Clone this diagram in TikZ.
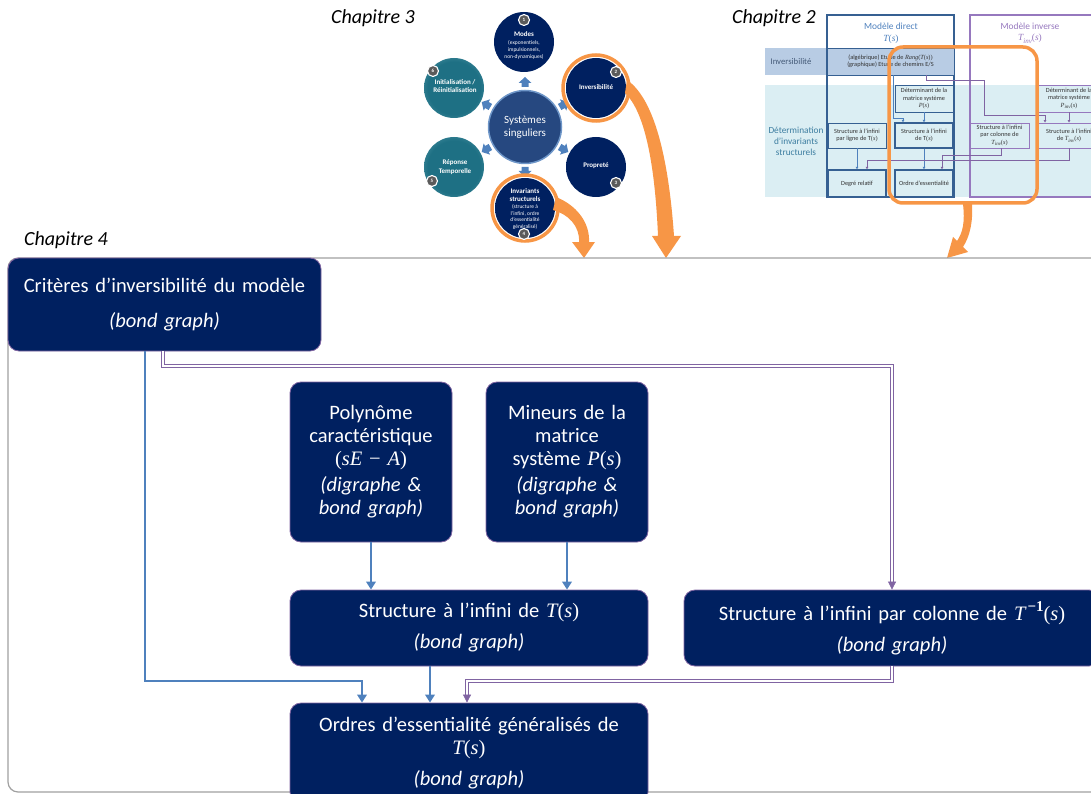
\documentclass[tikz,border=0pt]{standalone}
\usepackage{fontspec}
\setmainfont{Carlito}
\newfontfamily\cambria{Liberation Serif}
\usetikzlibrary{arrows.meta}
\definecolor{navy}{RGB}{0,32,96}
\definecolor{boxedge}{RGB}{128,100,162}
\definecolor{cblue}{RGB}{79,129,189}
\definecolor{cpurp}{RGB}{128,100,162}
\definecolor{framec}{RGB}{160,160,160}
\definecolor{orng}{RGB}{247,150,70}
\definecolor{navyrim}{RGB}{125,145,185}
\definecolor{tealc}{RGB}{30,112,132}
\definecolor{tealrim}{RGB}{155,205,215}
\definecolor{midblue}{RGB}{38,72,128}
\definecolor{ringblue}{RGB}{110,150,200}
\definecolor{badgec}{RGB}{90,90,90}
\definecolor{invband}{RGB}{184,204,228}
\definecolor{detband}{RGB}{219,238,243}
\definecolor{dircol}{RGB}{54,96,146}
\definecolor{invcol}{RGB}{150,120,190}
\definecolor{labinv}{RGB}{68,90,120}
\definecolor{labdet}{RGB}{60,125,160}
\definecolor{hdrblue}{RGB}{79,129,189}
\definecolor{celltext}{RGB}{50,50,50}
\pgfdeclareradialshading{navyglow}{\pgfpointorigin}{color(0bp)=(navy); color(28bp)=(navy); color(50bp)=(navyrim)}
\pgfdeclareradialshading{tealglow}{\pgfpointorigin}{color(0bp)=(tealc); color(22bp)=(tealc); color(50bp)=(tealrim)}
\newcommand\ctit{\fontsize{7}{8.3}\selectfont\bfseries}
\newcommand\csub{\fontsize{5.5}{6.8}\selectfont}
\newcommand\mv[1]{{\cambria\itshape #1}}
\newcommand\mup[1]{{\cambria #1}}
\newcommand\fn[2]{\mv{#1}\mup{(}\mv{#2}\mup{)}}
\newcommand\Tinvs[1]{\mv{T}\raisebox{-0.25em}{\fontsize{#1}{#1}\selectfont\mv{inv}}\mup{(}\mv{s}\mup{)}}
\newcommand\Pinvs[1]{\mv{P}\raisebox{-0.25em}{\fontsize{#1}{#1}\selectfont\mv{inv}}\mup{(}\mv{s}\mup{)}}
\begin{document}
\begin{tikzpicture}[x=1pt,y=-1pt,
  mainbox/.style={draw=boxedge, line width=0.8pt, fill=navy, rounded corners=11pt, text=white, align=center, inner sep=2pt, font=\fontsize{20.5}{23}\selectfont},
  blueflow/.style={draw=cblue, line width=2.6pt, -{Triangle[length=8pt,width=9.5pt]}},
  purpflow/.style={draw=cpurp, double=white, double distance=1.8pt, line width=0.7pt, -{Triangle[length=8pt,width=8pt]}},
  chapter/.style={font=\fontsize{20}{22}\selectfont\itshape},
  navycirc/.style={circle, minimum size=60pt, inner sep=0pt, shade, shading=navyglow},
  tealcirc/.style={circle, minimum size=60pt, inner sep=0pt, shade, shading=tealglow},
  ctitle/.style={text=white, align=center, inner sep=0pt, font=\ctit},
  csubt/.style={text=white, align=center, inner sep=0pt, font=\csub},
  badge/.style={circle, fill=badgec, draw=white, line width=1.1pt, minimum size=11pt, inner sep=0pt, text=white, font=\fontsize{5}{5}\selectfont\bfseries},
  cell/.style={draw=dircol, line width=0.9pt, fill=detband, inner sep=1pt, align=center, text=celltext, font=\fontsize{6.3}{7.3}\selectfont},
  icell/.style={cell, draw=invcol},
  tline/.style={line width=0.6pt, -{Triangle[length=2.5pt,width=2.6pt]}},
  orarrow/.style={fill=orng}
]
\useasboundingbox (0,0) rectangle (1091,794);

% ---------- chapter labels
\node[chapter] (ch3) at (373,18) {Chapitre 3};
\node[chapter] (ch2) at (774,18) {Chapitre 2};
\node[chapter] (ch4) at (66,240) {Chapitre 4};

% ---------- Chapitre 2 table
\fill[invband] (765,48) rectangle (955,75);
\fill[detband] (765,85) rectangle (1100,197);
\node[font=\fontsize{8.7}{10}\selectfont, text=labinv] (linv) at (791,62) {Inversibilité};
\node[font=\fontsize{9.3}{11}\selectfont, text=labdet, align=center] (ldet) at (796,141) {Détermination\\d’invariants\\structurels};
\draw[dircol, line width=1.2pt] (827,15) rectangle (954,197);
\draw[invcol, line width=1.2pt] (970,15) rectangle (1110,197);
\node[font=\fontsize{9.4}{11.5}\selectfont, text=hdrblue, align=center] (hdir) at (891,33) {Modèle direct\\\fn{T}{s}};
\node[font=\fontsize{9.4}{11.5}\selectfont, text=invcol, align=center] (hinv) at (1030,33) {Modèle inverse\\\Tinvs{7}};
\node[cell, fill=invband, minimum width=127pt, minimum height=27pt] (invc) at (890.5,61.5) {(algébrique) Etude de \mv{Rang}\mup{(}\fn{T}{s}\mup{)}\\(graphique) Etude de chemins E/S};
\node[cell, minimum width=58pt, minimum height=27pt] (detP) at (924,98.5) {Déterminant de la\\matrice système\\\fn{P}{s}};
\node[cell, minimum width=58pt, minimum height=25pt] (sline) at (857,135.5) {Structure à l’infini\\par ligne de T\mup{(}\mv{s}\mup{)}};
\node[cell, line width=1.4pt, minimum width=58pt, minimum height=25pt] (sT) at (924,135.5) {Structure à l’infini\\de T\mup{(}\mv{s}\mup{)}};
\node[cell, line width=1.4pt, minimum width=58pt, minimum height=27pt] (degre) at (857,183.5) {Degré relatif};
\node[cell, line width=1.4pt, minimum width=58pt, minimum height=27pt] (ordre) at (924,183.5) {Ordre d’essentialité};
\node[icell, minimum width=59pt, minimum height=25pt] (scol) at (999.5,135.5) {Structure à l’infini\\par colonne de\\\Tinvs{5}};
\node[icell, minimum width=62pt, minimum height=27pt] (detPinv) at (1069,98.5) {Déterminant de la\\matrice système\\\Pinvs{5}};
\node[icell, minimum width=62pt, minimum height=25pt] (sTinv) at (1069,135.5) {Structure à l’infini\\de \Tinvs{5}};
\coordinate (tb1) at (893,118);
\coordinate (tb2) at (903,118);
\draw[tline, draw=cblue, fill=cblue] (detP.south) -- (sT.north);
\draw[tline, draw=cblue, fill=cblue] (sline.south) -- (degre.north);
\draw[tline, draw=cblue, fill=cblue] (sT.south) -- (ordre.north);
\draw[tline, draw=cblue] (invc.south -| tb1) |- (tb2) -- (sT.north -| tb2);
\coordinate (tp1) at (926,80);
\coordinate (tp2) at (984,115);
\coordinate (tp3) at (1045,115);
\draw[tline, draw=cpurp] (invc.south -| tp1) -- (tp1) -| (tp2) -- (tp3) -- (sTinv.north -| tp3);
\draw[tline, draw=cpurp] (detPinv.south) -- (sTinv.north);
\coordinate (tp4) at (1001,155);
\coordinate (tp5) at (942,155);
\draw[tline, draw=cpurp] (scol.south -| tp4) -- (tp4) -- (tp5) -- (ordre.north -| tp5);
\coordinate (tp6) at (1069,160);
\coordinate (tp7) at (867,160);
\draw[tline, draw=cpurp] (sTinv.south -| tp6) -- (tp6) -- (tp7) -- (degre.north -| tp7);
\draw[orng, line width=3.5pt, rounded corners=14pt] (889,47) rectangle (1037,203);

% ---------- Chapitre 3 circles
\node[navycirc] (c1) at (524,42) {};
\node[navycirc] (c2) at (596,88) {};
\node[navycirc] (c3) at (596,167) {};
\node[navycirc] (c4) at (525,208) {};
\node[tealcirc] (c5) at (454,167) {};
\node[tealcirc] (c6) at (454,88) {};
\node[circle, minimum size=73pt, fill=midblue, draw=ringblue, line width=1.5pt, text=white, align=center, font=\fontsize{11}{13}\selectfont] (sys) at (525,127) {Systèmes\\singuliers};
\foreach \a in {90,30,-30,-90,-150,150}{
  \begin{scope}[shift={(525,127)}, rotate=\a]
    \fill[cblue] (40,-3.5) -- (44,-3.5) -- (44,-6.5) -- (50,0) -- (44,6.5) -- (44,3.5) -- (40,3.5) -- cycle;
  \end{scope}
}
\node[ctitle] (t1) at (524,34) {Modes};
\node[csubt] (t1s) at (524,50) {(exponentiels,\\impulsionnels,\\non-dynamiques)};
\node[ctitle] (t2) at (596,87) {Inversibilité};
\node[ctitle] (t3) at (596,166) {Propreté};
\node[ctitle] (t4) at (525,195) {Invariants\\structurels};
\node[csubt] (t4s) at (525,217) {(structure à\\l’infini, ordre\\d’essentialité\\généralisé)};
\node[ctitle] (t5) at (455,167) {Réponse\\Temporelle};
\node[ctitle] (t6) at (455,86) {Initialisation /\\Réinitialisation};
\draw[orng, line width=3.5pt] (c2.center) circle (33);
\draw[orng, line width=3.5pt] (c4.center) circle (33);
\node[badge] (n1) at (524,20) {1};
\node[badge] (n2) at (616,72) {2};
\node[badge] (n3) at (616,183) {3};
\node[badge] (n4) at (524,234) {4};
\node[badge] (n5) at (432,181) {5};
\node[badge] (n6) at (433,71) {6};

% ---------- orange arrows
\fill[orarrow] (627,80) .. controls (652,97) and (668,150) .. (674,236) -- (681,236) -- (666,258) -- (652,236) -- (658,236) .. controls (655,165) and (645,112) .. (625,93) -- cycle;
\fill[orarrow] (556,197) .. controls (576,205) and (590,222) .. (589,242) -- (595,242) -- (584,258) -- (572,242) -- (579,242) .. controls (580,226) and (568,214) .. (553,210) -- cycle;
\fill[orarrow] (963,204) .. controls (965,222) and (963,232) .. (957,241) -- (953,237) -- (947,258) -- (968,252) -- (963,247) .. controls (970,236) and (973,222) .. (972,204) -- cycle;

% ---------- Chapitre 4 frame and boxes
\draw[framec, line width=1.2pt, rounded corners=10pt] (8,258) rectangle (1110,792);
\node[mainbox, minimum width=313pt, minimum height=93pt, text width=305pt] (crit) at (164.5,304.5) {Critères d’inversibilité du modèle\\[12pt]{\itshape (bond graph)}};
\node[mainbox, minimum width=162pt, minimum height=160pt, text width=155pt] (poly) at (371,462) {Polynôme\\caractéristique\\\mup{(}\mv{sE}\mup{ − }\mv{A}\mup{)}\\[3pt]{\itshape (digraphe \&\\bond graph)}};
\node[mainbox, minimum width=162pt, minimum height=160pt, text width=155pt] (mineurs) at (567,462) {Mineurs de la\\matrice\\système \fn{P}{s}\\[3pt]{\itshape (digraphe \&\\bond graph)}};
\node[mainbox, minimum width=358pt, minimum height=76pt, text width=350pt] (structT) at (469,628) {Structure à l’infini de \fn{T}{s}\\[8pt]{\itshape (bond graph)}};
\node[mainbox, minimum width=416pt, minimum height=76pt, text width=400pt] (structC) at (892,628) {Structure à l’infini par colonne de \mv{T}\kern2pt\raisebox{0.42em}{\fontsize{15}{15}\selectfont\bfseries\mup{−1}}\mup{(}\mv{s}\mup{)}\\[8pt]{\itshape (bond graph)}};
\node[mainbox, minimum width=358pt, minimum height=100pt, text width=350pt] (ordres) at (469,753) {Ordres d’essentialité généralisés de\\\fn{T}{s}\\[8pt]{\itshape (bond graph)}};

% ---------- connectors
\coordinate (k1) at (145,681);
\coordinate (k2) at (362,681);
\coordinate (k3) at (430,681);
\draw[blueflow] (crit.south -| k1) |- (k2) -- (ordres.north -| k2);
\draw[blueflow] (poly.south) -- (structT.north -| poly.south);
\draw[blueflow] (mineurs.south) -- (structT.north -| mineurs.south);
\draw[blueflow] (structT.south -| k3) -- (ordres.north -| k3);
\coordinate (p1) at (163,366);
\coordinate (p2) at (892,366);
\coordinate (p3) at (467,681);
\draw[purpflow] (crit.south -| p1) |- (p2) -- (structC.north -| p2);
\draw[purpflow] (structC.south -| p2) |- (p3) -- (ordres.north -| p3);
\end{tikzpicture}
\end{document}
